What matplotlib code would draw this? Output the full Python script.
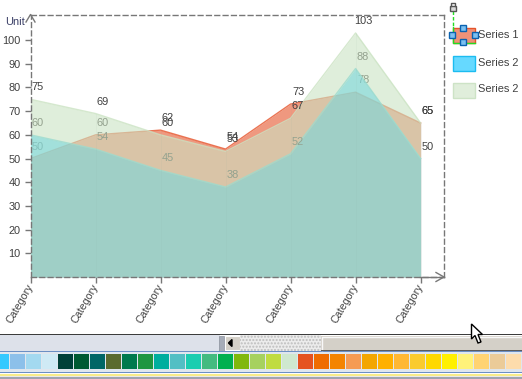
import matplotlib
matplotlib.use('Agg')
import matplotlib.pyplot as plt
from matplotlib.patches import Rectangle, Polygon
from matplotlib.transforms import ScaledTranslation

plt.rcParams['font.family'] = ['Liberation Sans', 'DejaVu Sans']

categories = ['Category'] * 7
series_names = ['Series 1', 'Series 2', 'Series 2']
series_1 = [50, 60, 62, 54, 73, 78, 65]
series_2 = [60, 54, 45, 38, 52, 88, 50]
series_3 = [75, 69, 60, 53, 67, 103, 65]
y_ticks = [10, 20, 30, 40, 50, 60, 70, 80, 90, 100]
palette = ['#33c9ff', '#8cc0ea', '#a3d9f0', '#cfeaf5', '#004038', '#005a32', '#006666',
           '#5a6b2f', '#007a4d', '#1e9641', '#00ae9e', '#52bfc4', '#1acdb0', '#44bb80',
           '#00b050', '#80b80e', '#a6d15f', '#c0dc40', '#cfe8cf', '#e55220', '#ef6c00',
           '#f48400', '#f59b53', '#f3a600', '#ffb000', '#ffb833', '#facb2e', '#ffd800',
           '#fff000', '#fff27a', '#ffd372', '#ebcb98', '#fddcac']

W, H = 522, 379
AXIS = '#777777'
TEXT = '#404040'

fig = plt.figure(figsize=(W / 100, H / 100), dpi=100)
ax = fig.add_axes([30.5 / W, 1 - 277 / H, (444 - 30.5) / W, (277 - 14.5) / H])
x = list(range(len(categories)))
layers = [(series_1, '#e5532a', '#e5532a'),
          (series_2, '#00c5ff', '#55d0e0'),
          (series_3, '#cbe3c3', '#cbe3c3')]

z = 2
for values, fill, edge in layers:
    ax.fill_between(x, 0, values, color=fill, alpha=0.6, linewidth=0, zorder=z)
    ax.plot(x, values, color=edge, lw=1, alpha=0.8, zorder=z)
    for i, v in zip(x, values):
        ax.annotate(str(v), (i, v), xytext=(5.4, 8.6), textcoords='offset points',
                    ha='center', va='center', fontsize=7.9, color=TEXT, zorder=z,
                    annotation_clip=False)
    z += 1

for i in x[1:]:
    ax.plot([i, i], [0, max(series_1[i], series_2[i], series_3[i])], color='#8aa89c',
            lw=0.5, alpha=0.1, zorder=z)

ax.set_xlim(0, 6.36)
ax.set_ylim(0, 110.8)
ax.set_yticks(y_ticks)
ax.set_xticks(x)
ax.set_xticklabels(categories, rotation=60, ha='right', rotation_mode='anchor')
ax.tick_params(axis='both', length=4, width=1, color=AXIS, labelsize=7.7, labelcolor=TEXT, pad=3)
ax.tick_params(axis='y', labelsize=7.9)
shift = ScaledTranslation(-3.5 / 100, 5 / 100, fig.dpi_scale_trans)
for lab in ax.get_xticklabels():
    lab.set_transform(lab.get_transform() + shift)
for side in ['top', 'right', 'left', 'bottom']:
    ax.spines[side].set_color(AXIS)
    ax.spines[side].set_linewidth(1)
    ax.spines[side].set_linestyle((0, (3.5, 2.5)))
    ax.spines[side].set_zorder(10)

# page furniture in pixel coordinates
ov = fig.add_axes([0, 0, 1, 1], zorder=20)
ov.set_xlim(0, W)
ov.set_ylim(H, 0)
ov.axis('off')
ov.patch.set_alpha(0)


def box(x0, y0, w, h, color, edge='none', lw=0, zorder=1, **kw):
    ov.add_patch(Rectangle((x0, y0), w, h, facecolor=color, edgecolor=edge, linewidth=lw, zorder=zorder, **kw))


# axis arrows
ov.plot([26, 30.5, 35], [22, 14.5, 22], color=AXIS, lw=1, zorder=2)
ov.plot([420, 444], [277, 277], color=AXIS, lw=1, zorder=2)
ov.plot([436, 444, 436], [272.5, 277, 281.5], color=AXIS, lw=1, zorder=2)
ov.text(15, 22, 'Unit', ha='center', va='center', fontsize=7.9, color='#3a3f66')

# legend
swatches = [(27, '#ef9278', '#e5532a'), (55, '#66d9ff', '#1cbcf0'), (82, '#e0eedb', '#cde3c6')]
for (top, fill, edge), name in zip(swatches, series_names):
    box(452.5, top + 0.5, 22, 15, fill, edge, 1)
    ov.text(478, top + 7.5, name, ha='left', va='center', fontsize=7.9, color=TEXT)

ov.plot([452.5, 452.5], [11, 27], color='#22dd22', lw=1, ls=(0, (2.5, 1.5)), zorder=3)
ov.plot([452.5, 452.5, 475], [27, 42.5, 42.5], color='#22dd22', lw=1, zorder=3)
box(449.5, 5.5, 6, 5.5, '#d8d8d8', '#555555', 1, zorder=4)
ov.plot([450.5, 450.5, 454.5, 454.5], [5.5, 2.5, 2.5, 5.5], color='#555555', lw=1, zorder=4)
for cx, cy in [(463, 27.5), (452, 35), (474.5, 35), (463, 42)]:
    box(cx - 3, cy - 3, 6, 6, '#7cc0f0', '#0a62b0', 1, zorder=5)

# scrollbar strip
box(0, 334, W, 1, '#3c3c3c')
box(0, 335, 220, 15.5, '#dde1ea')
box(219, 336, 5, 14.5, '#a6acb8', '#8a909c', 0.5)
box(224.5, 336, 15, 14, '#d4d0c8', '#fdfdfd', 0.8)
ov.add_patch(Polygon([[232, 339.5], [232, 346.5], [228.5, 343]], closed=True, color='black', zorder=3))
box(240, 335, 81, 15.5, '#ececec', zorder=1)
box(240, 335, 81, 15.5, 'none', '#bdbdbd', 0, hatch='.....', zorder=2)
box(321, 336, 201, 14, '#d4d0c8', zorder=2)
ov.plot([321.5, 321.5, 522], [350, 336.5, 336.5], color='#f8f8f8', lw=1, zorder=3)
box(321, 349.5, 201, 1.5, '#5c5c5c', zorder=3)

# colour strip
box(0, 350.5, W, 1.5, '#6b8fc4')
box(0, 352, W, 20, '#dfe6ee')
for i, c in enumerate(palette):
    box(-6 + 16 * i, 354, 15.2, 15.3, c, zorder=2)
box(0, 372, W, 1, '#6b8fc4')
box(0, 373, W, 1, '#fdfdfd')
box(0, 374, W, 2, '#f8ec8a')
box(0, 376, W, 1, '#e8e8e8')
box(0, 377, W, 2, '#a0a4b0')

# mouse cursor
ov.add_patch(Polygon([[471.5, 324], [471.5, 339], [475, 335.5], [478, 343], [481, 342], [478, 334.5], [482.5, 334.5]],
                     closed=True, facecolor='white', edgecolor='black', linewidth=1, zorder=6))

fig.savefig('out.png', dpi=100)
